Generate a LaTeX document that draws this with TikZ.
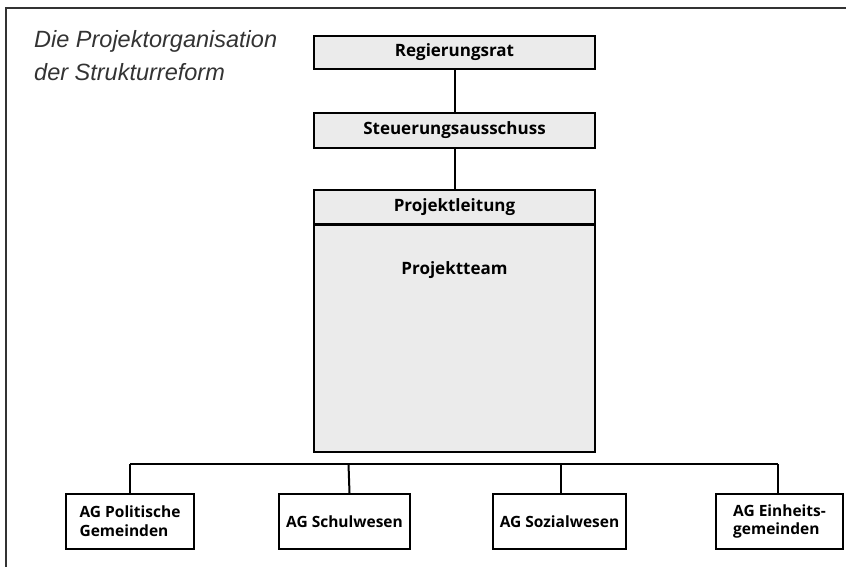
\documentclass[tikz,border=0pt]{standalone}
\usepackage{fontspec}
\setmainfont{Open Sans}
\newfontfamily\titlefont{Liberation Sans}
\definecolor{boxfill}{HTML}{EBEBEB}
\definecolor{framecol}{HTML}{333333}
\begin{document}
\begin{tikzpicture}[x=1pt,y=-1pt,
  box/.style={draw=black, line width=1.9pt, fill=boxfill, minimum width=281pt, inner sep=0pt, font=\fontsize{17}{18}\selectfont\bfseries},
  agbox/.style={draw=black, line width=1.9pt, fill=white, inner sep=0pt, minimum height=55pt, font=\fontsize{15.5}{18.7}\selectfont\bfseries, align=left},
  conn/.style={line width=2pt, black},
  titletext/.style={anchor=base west, inner sep=0pt, text=framecol, font=\titlefont\itshape\fontsize{23.5}{26}\selectfont}]
\useasboundingbox (0,0) rectangle (846,567);
\draw[line width=1.5pt, framecol] (846,8) -- (6,8) -- (6,567);
\node[titletext] (t1) at (34,48) {Die Projektorganisation};
\node[titletext] (t2) at (34,81) {der Strukturreform};
\node[box, minimum height=33pt] (rr) at (454.5,52.5) {Regierungsrat};
\node[box, minimum height=35pt] (sa) at (454.5,130.5) {Steuerungsausschuss};
\node[box, minimum height=34pt] (pl) at (454.5,207) {Projektleitung};
\node[box, minimum height=227pt, anchor=north] (pt) at (454.5,224) {};
\node[font=\fontsize{17}{18}\selectfont\bfseries] (ptt) at (454.5,270) {Projektteam};
\draw[conn] (rr.south) -- (sa.north);
\draw[conn] (sa.south) -- (pl.north);
\node[agbox, minimum width=128pt] (ag1) at (130,521.5) {AG Politische\\Gemeinden};
\node[agbox, minimum width=131pt] (ag2) at (344.5,521.5) {AG Schulwesen};
\node[agbox, minimum width=133pt] (ag3) at (559.5,521.5) {AG Sozialwesen};
\node[agbox, minimum width=127pt] (ag4) at (779.5,521.5) {AG Einheits-\\gemeinden};
\coordinate (b1) at (130,464);
\coordinate (b4) at (778,464);
\draw[conn] (b1) -- (b4);
\draw[conn] (b1) -- (ag1.north);
\draw[conn] (348.5,464) -- (ag2.north -| 349.5,0);
\draw[conn] (561,464) -- (ag3.north -| 561,0);
\draw[conn] (b4) -- (ag4.north -| 778,0);
\end{tikzpicture}
\end{document}
